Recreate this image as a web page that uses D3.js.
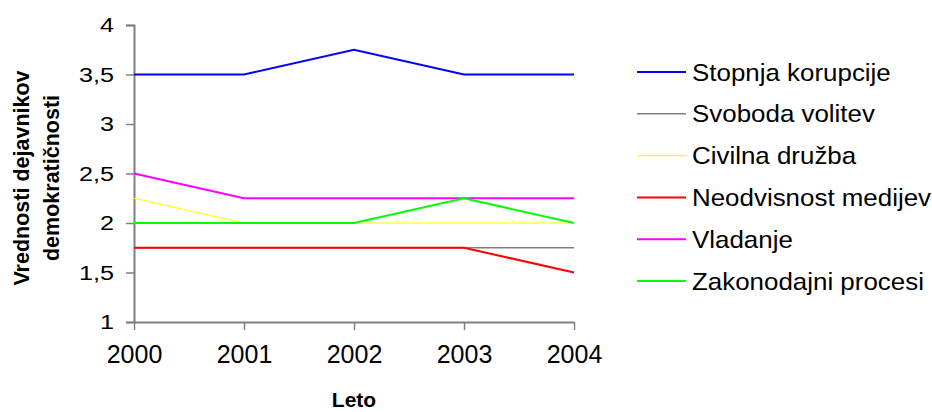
<!DOCTYPE html>
<html>
<head>
<meta charset="utf-8">
<script src="https://cdn.jsdelivr.net/npm/d3@7"></script>
<style>
  html, body { margin: 0; padding: 0; background: #fff; }
  svg { display: block; font-family: "Liberation Sans", Arial, sans-serif; }
</style>
</head>
<body>
<svg id="chart" width="932" height="412"></svg>
<script>
const years = [2000, 2001, 2002, 2003, 2004];
const seriesNames = ["Stopnja korupcije", "Svoboda volitev", "Civilna družba", "Neodvisnost medijev", "Vladanje", "Zakonodajni procesi"];
const stopnjaKorupcije = [3.5, 3.5, 3.75, 3.5, 3.5];
const svobodaVolitev = [1.75, 1.75, 1.75, 1.75, 1.75];
const civilnaDruzba = [2.25, 2, 2, 2, 2];
const neodvisnostMedijev = [1.75, 1.75, 1.75, 1.75, 1.5];
const vladanje = [2.5, 2.25, 2.25, 2.25, 2.25];
const zakonodajniProcesi = [2, 2, 2, 2.25, 2];
const seriesColors = ["#0000FF", "#808080", "#FFFF00", "#FF0000", "#FF00FF", "#00FF00"];
const seriesWidths = [2, 1.5, 1.2, 2, 2, 2];
const yTicks = [1, 1.5, 2, 2.5, 3, 3.5, 4];
const yTitle = ["Vrednosti dejavnikov", "demokratičnosti"];
const xTitle = "Leto";

const seriesValues = [stopnjaKorupcije, svobodaVolitev, civilnaDruzba, neodvisnostMedijev, vladanje, zakonodajniProcesi];

const svg = d3.select("#chart");
const x = d3.scalePoint().domain(years).range([134, 574]);
const y = d3.scaleLinear().domain([1, 4]).range([322, 25]);

const fmt = v => String(v).replace(".", ",");

// Y axis
const yAxis = svg.append("g").attr("transform", "translate(134,0)")
  .call(d3.axisLeft(y).tickValues(yTicks).tickFormat(fmt).tickSize(8).tickPadding(11));
yAxis.select(".domain").attr("stroke", "#808080").attr("stroke-width", 2);
yAxis.selectAll(".tick line").attr("stroke", "#808080").attr("stroke-width", 1.5);
yAxis.selectAll(".tick text").attr("font-size", 21).attr("fill", "#000")
  .attr("font-family", "'Liberation Sans', Arial, sans-serif")
  .attr("x", 0)
  .attr("transform", "translate(-20,0) scale(1.2,1)");

// X axis
const xAxis = svg.append("g").attr("transform", "translate(0,322)")
  .call(d3.axisBottom(x).tickSizeInner(8).tickSizeOuter(0).tickPadding(15));
xAxis.select(".domain").attr("stroke", "#808080").attr("stroke-width", 2);
xAxis.selectAll(".tick line").attr("stroke", "#808080").attr("stroke-width", 1.5);
xAxis.selectAll(".tick text").attr("font-size", 25).attr("fill", "#000")
  .attr("font-family", "'Liberation Sans', Arial, sans-serif");

// Lines
const line = d3.line().x((d, i) => x(years[i])).y(d => y(d));
seriesValues.forEach((vals, k) => {
  svg.append("path").datum(vals)
    .attr("fill", "none")
    .attr("stroke", seriesColors[k])
    .attr("stroke-width", seriesWidths[k])
    .attr("d", line);
});

// Axis titles
const yt = svg.append("text")
  .attr("transform", "translate(0,178) rotate(-90)")
  .attr("text-anchor", "middle")
  .attr("font-weight", "bold")
  .attr("font-size", 21.5);
yt.append("tspan").attr("x", 0).attr("y", 29).text(yTitle[0]);
yt.append("tspan").attr("x", 0).attr("y", 59).text(yTitle[1]);

svg.append("text")
  .attr("x", 354).attr("y", 407)
  .attr("text-anchor", "middle")
  .attr("font-weight", "bold")
  .attr("font-size", 21)
  .text(xTitle);

// Legend
const legend = svg.append("g");
seriesNames.forEach((name, k) => {
  const cy = 72 + k * 41.8;
  legend.append("line")
    .attr("x1", 637).attr("x2", 686).attr("y1", cy).attr("y2", cy)
    .attr("stroke", seriesColors[k]).attr("stroke-width", seriesWidths[k]);
  legend.append("text")
    .attr("transform", `translate(692,${cy + 8.5}) scale(1.08,1)`)
    .attr("font-size", 24)
    .text(name);
});
</script>
</body>
</html>
